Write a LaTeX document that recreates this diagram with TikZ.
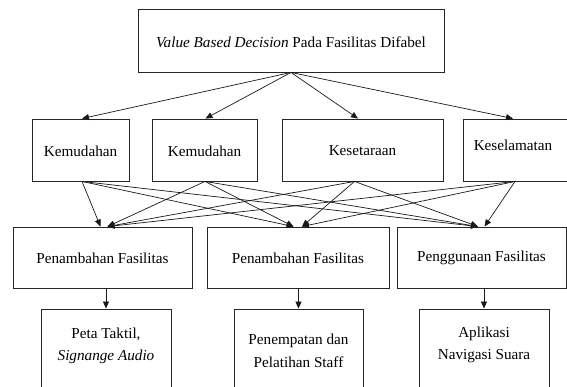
\documentclass[tikz,border=0pt]{standalone}
\usepackage{fontspec}
\setmainfont{Liberation Serif}
\usetikzlibrary{arrows.meta}
\begin{document}
\begin{tikzpicture}[x=1pt,y=-1pt,
  box/.style={draw=black!85,line width=0.9pt,rectangle,inner sep=0pt},
  lbl/.style={inner sep=0pt,align=center,font=\fontsize{15.2}{22.5}\selectfont},
  arr/.style={draw=black!90,line width=0.7pt,-{Triangle[length=7pt,width=6pt]}},
  ]
\useasboundingbox (0,0) rectangle (567,387);
% level 1
\node[box,minimum width=306,minimum height=63] (top) at (291,40.5) {};
\node[lbl] (topt) at (291,42) {\textit{Value Based Decision} Pada Fasilitas Difabel};
% level 2
\node[box,minimum width=97,minimum height=62] (k1) at (80.5,150) {};
\node[lbl] (k1t) at (80.5,151) {Kemudahan};
\node[box,minimum width=105,minimum height=62] (k2) at (204.5,150) {};
\node[lbl] (k2t) at (204.5,151) {Kemudahan};
\node[box,minimum width=161,minimum height=62] (k3) at (362.5,150) {};
\node[lbl] (k3t) at (362.5,151) {Kesetaraan};
\node[box,minimum width=106,minimum height=62] (k4) at (516,150) {};
\node[lbl] (k4t) at (513,145) {Keselamatan};
% level 3
\node[box,minimum width=179,minimum height=61] (A) at (102.5,257.5) {};
\node[lbl] (At) at (102.5,258) {Penambahan Fasilitas};
\node[box,minimum width=182,minimum height=61] (B) at (298,257.5) {};
\node[lbl] (Bt) at (298,258) {Penambahan Fasilitas};
\node[box,minimum width=169,minimum height=61] (C) at (481.5,257.5) {};
\node[lbl] (Ct) at (481.5,258) {Penggunaan Fasilitas};
% level 4
\node[box,minimum width=130,minimum height=95] (a) at (106,356.5) {};
\node[lbl] (at) at (106,346) {Peta Taktil,\\\textit{Signange Audio}};
\node[box,minimum width=129,minimum height=95] (b) at (298.5,356.5) {};
\node[lbl] (bt) at (298.5,351) {Penempatan dan\\Pelatihan Staff};
\node[box,minimum width=130,minimum height=95] (c) at (484,356.5) {};
\node[lbl] (ct) at (484,345) {Aplikasi\\Navigasi Suara};
% level 1 -> level 2
\draw[arr] (top.south) -- ([xshift=1.5pt]k1.north);
\draw[arr] (top.south) -- ([xshift=1pt]k2.north);
\draw[arr] (top.south) -- ([xshift=-4.5pt]k3.north);
\draw[arr] (top.south) -- ([xshift=-3pt]k4.north);
% level 2 -> level 3
\coordinate (s1) at ([xshift=1.5pt]k1.south);
\coordinate (s2) at ([xshift=0.5pt]k2.south);
\coordinate (s3) at ([xshift=-8pt]k3.south);
\coordinate (s4) at ([xshift=-1pt]k4.south);
\draw[arr] (s1) -- ([xshift=-2pt]A.north);
\draw[arr] (s2) -- ([xshift=5pt]A.north);
\draw[arr] (s3) -- ([xshift=5pt]A.north);
\draw[arr] (s4) -- ([xshift=5pt]A.north);
\draw[arr] (s1) -- ([xshift=-4.5pt]B.north);
\draw[arr] (s2) -- ([xshift=-4.5pt]B.north);
\draw[arr] (s3) -- ([xshift=4pt]B.north);
\draw[arr] (s4) -- ([xshift=4pt]B.north);
\draw[arr] (s1) -- ([xshift=-3.5pt]C.north);
\draw[arr] (s2) -- ([xshift=-3.5pt]C.north);
\draw[arr] (s3) -- ([xshift=-3.5pt]C.north);
\draw[arr] (s4) -- ([xshift=3pt]C.north);
% level 3 -> level 4
\draw[arr] (a.north |- A.south) -- (a.north);
\draw[arr] (b.north |- B.south) -- (b.north);
\draw[arr] (c.north |- C.south) -- (c.north);
\end{tikzpicture}
\end{document}
